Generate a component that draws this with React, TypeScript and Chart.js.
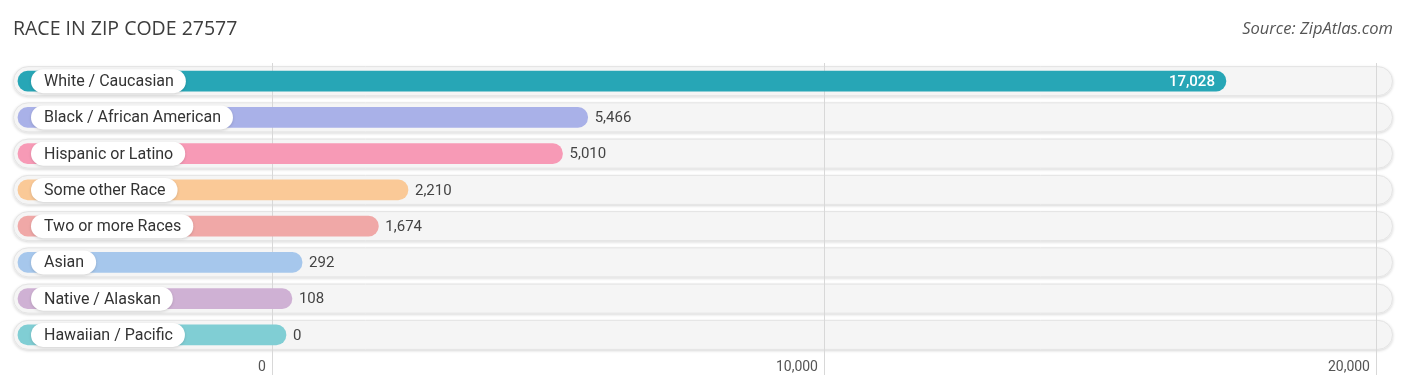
import { useEffect, useRef } from "react";
import { Chart, registerables } from "chart.js";

Chart.register(...registerables);

const categories = [
  "White / Caucasian",
  "Black / African American",
  "Hispanic or Latino",
  "Some other Race",
  "Two or more Races",
  "Asian",
  "Native / Alaskan",
  "Hawaiian / Pacific",
];
const values = [17028, 5466, 5010, 2210, 1674, 292, 108, 0];
const colors = [
  "#27a6b6",
  "#a9b1e8",
  "#f79ab6",
  "#fac997",
  "#f0a8a7",
  "#a6c7ec",
  "#cfb1d4",
  "#80ced4",
];
const tickValues = [0, 10000, 20000];
const titleText = "RACE IN ZIP CODE 27577";
const sourceText = "Source: ZipAtlas.com";

// axis range (data units) and bar geometry in data units
const X_MIN = -4710;
const X_MAX = 20290;
const BAR_START = -4620;
const END_PAD = 235;

const fmt = (v: number) => v.toLocaleString("en-US");

function roundRect(ctx: CanvasRenderingContext2D, x: number, y: number, w: number, h: number, r: number) {
  ctx.beginPath();
  ctx.moveTo(x + r, y);
  ctx.lineTo(x + w - r, y);
  ctx.arc(x + w - r, y + r, r, -Math.PI / 2, Math.PI / 2);
  ctx.lineTo(x + r, y + h);
  ctx.arc(x + r, y + r, r, Math.PI / 2, (3 * Math.PI) / 2);
  ctx.closePath();
}

const decorPlugin = {
  id: "decor",
  beforeDraw(chart: any) {
    const { ctx, chartArea, scales } = chart;
    const y = scales.y;
    ctx.save();
    categories.forEach((_, i) => {
      const cy = y.getPixelForValue(i);
      ctx.save();
      ctx.shadowColor = "rgba(0,0,0,0.16)";
      ctx.shadowBlur = 3;
      ctx.shadowOffsetY = 1;
      roundRect(ctx, chartArea.left, cy - 15, chartArea.right - chartArea.left, 30, 15);
      ctx.fillStyle = "#f5f5f5";
      ctx.fill();
      ctx.restore();
      roundRect(ctx, chartArea.left + 0.5, cy - 14.5, chartArea.right - chartArea.left - 1, 29, 14.5);
      ctx.strokeStyle = "#e4e4e4";
      ctx.lineWidth = 1;
      ctx.stroke();
    });
    ctx.restore();
  },
  afterDatasetsDraw(chart: any) {
    const { ctx, scales } = chart;
    const x = scales.x;
    const y = scales.y;
    const maxV = Math.max(...values);
    ctx.save();
    categories.forEach((label, i) => {
      const cy = y.getPixelForValue(i);
      // label pill
      ctx.font = "16px Roboto";
      const tw = ctx.measureText(label).width;
      ctx.save();
      ctx.shadowColor = "rgba(0,0,0,0.15)";
      ctx.shadowBlur = 3;
      ctx.shadowOffsetY = 1;
      roundRect(ctx, 31, cy - 12, tw + 25, 24, 12);
      ctx.fillStyle = "#ffffff";
      ctx.fill();
      ctx.restore();
      ctx.fillStyle = "#333333";
      ctx.textBaseline = "middle";
      ctx.textAlign = "left";
      ctx.fillText(label, 44, cy + 1);
      // value label
      const v = values[i];
      const endPx = x.getPixelForValue(v + END_PAD);
      if (v > maxV * 0.8) {
        ctx.font = "500 15px Roboto";
        ctx.fillStyle = "#ffffff";
        ctx.textAlign = "right";
        ctx.fillText(fmt(v), endPx - 11, cy + 1);
      } else {
        ctx.font = "15px Roboto";
        ctx.fillStyle = "#444444";
        ctx.textAlign = "left";
        ctx.fillText(fmt(v), endPx + 7, cy + 1);
      }
    });
    // title & source
    ctx.textBaseline = "middle";
    ctx.textAlign = "left";
    ctx.font = "19.5px 'Open Sans'";
    ctx.fillStyle = "#3d3d3d";
    ctx.fillText(titleText, 13, 29);
    ctx.textAlign = "right";
    ctx.font = "italic 16.5px 'Open Sans'";
    ctx.fillStyle = "#555555";
    ctx.fillText(sourceText, 1393, 29);
    ctx.restore();
  },
};

export default function App() {
  const ref = useRef<HTMLCanvasElement | null>(null);
  useEffect(() => {
    if (!ref.current) return;
    const chart = new Chart(ref.current, {
      type: "bar",
      data: {
        labels: categories,
        datasets: [
          {
            data: values.map((v) => [BAR_START, v + END_PAD]) as any,
            backgroundColor: colors,
            barThickness: 20,
            borderRadius: 10,
            borderSkipped: false,
          },
        ],
      },
      options: {
        indexAxis: "y",
        animation: false,
        responsive: false,
        devicePixelRatio: 1,
        layout: { padding: { top: 63, left: 13, right: 13, bottom: 0 } },
        plugins: { legend: { display: false }, tooltip: { enabled: false }, title: { display: false } },
        scales: {
          x: {
            type: "linear",
            min: X_MIN,
            max: X_MAX,
            afterBuildTicks: (s: any) => {
              s.ticks = tickValues.map((v) => ({ value: v }));
            },
            afterFit: (s: any) => {
              s.height = 38;
            },
            border: { display: false },
            grid: { color: "#d8d8d8", lineWidth: 1, drawTicks: true, tickLength: 22, tickColor: "#d8d8d8" },
            ticks: {
              autoSkip: false,
              maxRotation: 0,
              align: "end",
              labelOffset: -7,
              padding: -16,
              color: "#555555",
              font: { family: "Roboto", size: 14 },
              callback: (v: any) => fmt(Number(v)),
            },
          },
          y: {
            type: "category",
            display: false,
            grid: { display: false },
          },
        },
      },
      plugins: [decorPlugin],
    });
    return () => chart.destroy();
  }, []);
  return (
    <div style={{ position: "absolute", left: 0, top: 0, width: 1406, height: 391 }}>
      <canvas ref={ref} width={1406} height={391} />
    </div>
  );
}
